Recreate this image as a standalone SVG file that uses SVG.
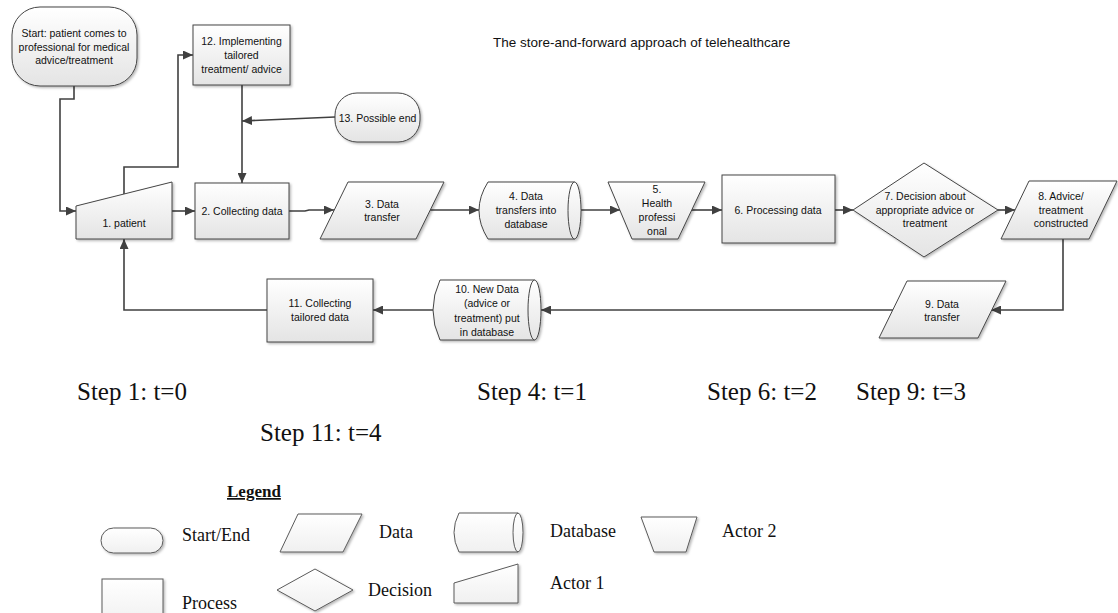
<svg xmlns="http://www.w3.org/2000/svg" width="1118" height="613" viewBox="0 0 1118 613">
<defs>
<linearGradient id="g" x1="0" y1="0" x2="0" y2="1">
<stop offset="0" stop-color="#ffffff"/>
<stop offset="1" stop-color="#e4e4e4"/>
</linearGradient>
<linearGradient id="g2" x1="0" y1="0" x2="0" y2="1">
<stop offset="0" stop-color="#ffffff"/>
<stop offset="1" stop-color="#f0f0f0"/>
</linearGradient>
<filter id="sh" x="-10%" y="-10%" width="130%" height="130%">
<feDropShadow dx="1.5" dy="1.5" stdDeviation="1" flood-color="#000" flood-opacity="0.28"/>
</filter>
<marker id="ar" markerUnits="userSpaceOnUse" markerWidth="11" markerHeight="9" refX="10" refY="4.5" orient="auto">
<path d="M0,0 L10,4.5 L0,9 Z" fill="#404040"/>
</marker>
<style>
.n{fill:url(#g);stroke:#454545;stroke-width:1;filter:url(#sh)}
.l{fill:url(#g2);stroke:#5a5a5a;stroke-width:1;filter:url(#sh)}
.t{font-family:"Liberation Sans",Arial,sans-serif;font-size:10.5px;fill:#111;text-anchor:middle}
.ti{font-family:"Liberation Sans",Arial,sans-serif;font-size:13.5px;fill:#111}
.s{font-family:"Liberation Serif","Times New Roman",serif;font-size:25px;fill:#111}
.lg{font-family:"Liberation Serif","Times New Roman",serif;font-size:18px;fill:#111}
.c{fill:none;stroke:#404040;stroke-width:1.6;marker-end:url(#ar)}
</style>
</defs>
<rect width="1118" height="613" fill="#ffffff"/>

<text class="ti" x="493" y="47">The store-and-forward approach of telehealthcare</text>

<g id="connectors">
<path class="c" d="M74,86 L74,99 L60,99 L60,211 L76,211"/>
<path class="c" d="M124,194 L124,167 L178,167 L178,55 L193,55"/>
<path class="c" d="M242,85 L242,183"/>
<path class="c" d="M335,117 L242,121"/>
<path class="c" d="M172,211 L195,211"/>
<path class="c" d="M289,211 L305,211 L309,210 L334,210"/>
<path class="c" d="M430,210 L479,210"/>
<path class="c" d="M573,210 L620,210"/>
<path class="c" d="M692,210 L722,210"/>
<path class="c" d="M835,210 L853,210"/>
<path class="c" d="M998,210 L1015,210"/>
<path class="c" d="M1063,239 L1063,310 L991,310"/>
<path class="c" d="M893,310 L541,310"/>
<path class="c" d="M541,310 L535,310 L535,297 L541,297"/>
<path class="c" d="M434,310 L373,310"/>
<path class="c" d="M267,310 L124,310 L124,239"/>
</g>

<g id="start">
<rect class="n" x="12" y="7" width="125" height="79" rx="28" ry="28"/>
<text class="t" x="74" y="37">Start: patient comes to</text>
<text class="t" x="74" y="50.5">professional for medical</text>
<text class="t" x="74" y="64">advice/treatment</text>
</g>

<g id="n1">
<polygon class="n" points="76,206 172,182 172,239 76,239"/>
<text class="t" x="124" y="227">1. patient</text>
</g>

<g id="n2">
<rect class="n" x="195" y="183" width="94" height="56"/>
<text class="t" x="242" y="215">2. Collecting data</text>
</g>

<g id="n3">
<polygon class="n" points="348,182 444,182 416,239 320,239"/>
<text class="t" x="382" y="208">3. Data</text>
<text class="t" x="382" y="221">transfer</text>
</g>

<g id="n4">
<path class="n" d="M488,182 L574.5,182 A6.5,28.5 0 0 1 574.5,239 L488,239 Q470,210.5 488,182 Z"/>
<path d="M574.5,182 A6.5,28.5 0 0 0 574.5,239" fill="none" stroke="#454545" stroke-width="1"/>
<text class="t" x="526" y="200">4. Data</text>
<text class="t" x="526" y="214">transfers into</text>
<text class="t" x="526" y="228">database</text>
</g>

<g id="n5">
<polygon class="n" points="608,182 705,182 678,239 632,239"/>
<text class="t" x="657" y="193">5.</text>
<text class="t" x="657" y="207">Health</text>
<text class="t" x="657" y="221">professi</text>
<text class="t" x="657" y="235">onal</text>
</g>

<g id="n6">
<rect class="n" x="722" y="175" width="113" height="68"/>
<text class="t" x="778" y="214">6. Processing data</text>
</g>

<g id="n7">
<polygon class="n" points="853,210 924,163 998,210 924,257"/>
<text class="t" x="925" y="200">7. Decision about</text>
<text class="t" x="925" y="214">appropriate advice or</text>
<text class="t" x="925" y="227">treatment</text>
</g>

<g id="n8">
<polygon class="n" points="1029,181 1117,181 1089,239 1001,239"/>
<text class="t" x="1061" y="200">8. Advice/</text>
<text class="t" x="1061" y="214">treatment</text>
<text class="t" x="1061" y="227">constructed</text>
</g>

<g id="n9">
<polygon class="n" points="907,281 1006,281 978,338 879,338"/>
<text class="t" x="942" y="308">9. Data</text>
<text class="t" x="942" y="321">transfer</text>
</g>

<g id="n10">
<path class="n" d="M440,280 L534.5,280 A6.5,30 0 0 1 534.5,340 L440,340 Q426,310 440,280 Z"/>
<path d="M534.5,280 A6.5,30 0 0 0 534.5,340" fill="none" stroke="#454545" stroke-width="1"/>
<text class="t" x="487" y="293">10. New Data</text>
<text class="t" x="487" y="307">(advice or</text>
<text class="t" x="487" y="322">treatment) put</text>
<text class="t" x="487" y="336">in database</text>
</g>

<g id="n11">
<rect class="n" x="267" y="279" width="106" height="63"/>
<text class="t" x="320" y="307">11. Collecting</text>
<text class="t" x="320" y="321">tailored data</text>
</g>

<g id="n12">
<rect class="n" x="193" y="25" width="97" height="60"/>
<text class="t" x="241.5" y="44.5">12. Implementing</text>
<text class="t" x="241.5" y="58.5">tailored</text>
<text class="t" x="241.5" y="72.5">treatment/ advice</text>
</g>

<g id="n13">
<rect class="n" x="335" y="93" width="85" height="49" rx="22" ry="22"/>
<text class="t" x="377.5" y="121.5">13. Possible end</text>
</g>

<g id="steps">
<text class="s" x="77" y="400">Step 1: t=0</text>
<text class="s" x="477" y="400">Step 4: t=1</text>
<text class="s" x="707" y="400">Step 6: t=2</text>
<text class="s" x="856" y="400">Step 9: t=3</text>
<text class="s" x="260" y="441">Step 11: t=4</text>
</g>

<g id="legend">
<text x="227" y="497" font-family="'Liberation Serif','Times New Roman',serif" font-size="17" font-weight="bold" text-decoration="underline" fill="#111">Legend</text>
<rect class="l" x="101" y="528" width="62" height="25" rx="12.5" ry="12.5"/>
<text class="lg" x="182" y="541">Start/End</text>
<polygon class="l" points="298,514 362,514 343,552 280,552"/>
<text class="lg" x="379" y="538">Data</text>
<path class="l" d="M459,513 L518,513 A5,19.5 0 0 1 518,552 L459,552 Q449,532.5 459,513 Z"/>
<path d="M518,513 A5,19.5 0 0 0 518,552" fill="none" stroke="#5a5a5a" stroke-width="1"/>
<text class="lg" x="550" y="537">Database</text>
<polygon class="l" points="641,517 697,517 686,552 654,552"/>
<text class="lg" x="722" y="537">Actor 2</text>
<rect class="l" x="102" y="579" width="61" height="46"/>
<text class="lg" x="182" y="609">Process</text>
<polygon class="l" points="277,590 315,569 353,590 315,611"/>
<text class="lg" x="368" y="596">Decision</text>
<polygon class="l" points="454,583 518,564 518,603 454,603"/>
<text class="lg" x="550" y="589">Actor 1</text>
</g>
</svg>
